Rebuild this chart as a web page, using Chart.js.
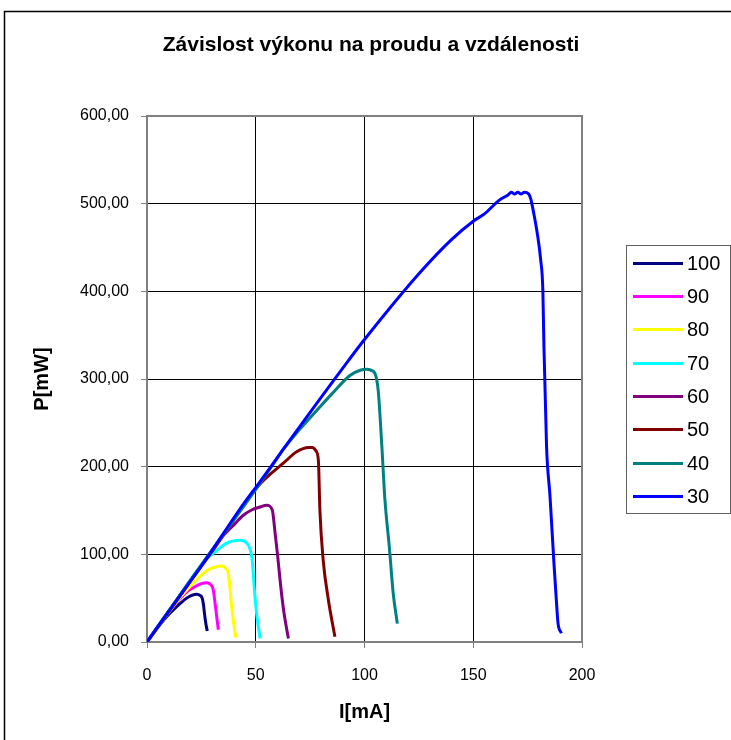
<!DOCTYPE html>
<html>
<head>
<meta charset="utf-8">
<title>Závislost výkonu na proudu a vzdálenosti</title>
<script src="https://cdn.jsdelivr.net/npm/chart.js@4.4.1/dist/chart.umd.min.js"></script>
<style>
    html, body { margin: 0; padding: 0; background: #fff; }
    #wrap { width: 731px; height: 740px; }
</style>
</head>
<body>
<div id="wrap"><canvas id="powerChart" width="731" height="740"></canvas></div>
<script>
// vzdálenosti (legenda) a barvy řad
const distances = ['100', '90', '80', '70', '60', '50', '40', '30'];
const colors = ['#000080', '#FF00FF', '#FFFF00', '#00FFFF', '#800080', '#800000', '#008080', '#0000FF'];

// proud I [mA] a výkon P [mW] pro každou vzdálenost
const i100 = [0, 8, 14.4, 18.2, 22.8, 24.5, 25.4, 26, 26.4, 27, 27.7];
const p100 = [0, 26, 42, 50, 54.4, 53, 49.8, 42, 33, 22, 12.5];

const i90 = [0, 10, 17.5, 22, 25, 27.4, 29.5, 30.5, 31.3, 32, 32.8];
const p90 = [0, 34, 55.5, 63, 66.5, 67.7, 65, 59, 44, 30, 14];

const i80 = [0, 15, 20, 26.7, 30, 34.3, 36.5, 37.4, 38.2, 38.6, 39.5, 40.8];
const p80 = [0, 50, 64, 80, 84.5, 86.7, 83, 78, 60, 48, 28, 5];

const i70 = [0, 15, 26.7, 32, 36, 42.8, 45.8, 47.5, 48.4, 49.4, 50.5, 52];
const p70 = [0, 53, 93, 104, 112, 116, 113, 105, 93, 59, 30, 4];

const i60 = [0, 20, 31.3, 35, 40.5, 44, 48.1, 52, 55, 57.6, 58.9, 60, 61.5, 63, 65];
const p60 = [0, 70, 108, 121, 135, 144, 150.6, 154, 156, 150.6, 124, 100, 63, 33, 4];

const i50 = [0, 25, 40, 50.4, 56, 62.7, 68.8, 74.2, 76, 77.7, 78.8, 79.5, 81, 83.4, 86.4];
const p50 = [0, 87, 140, 176, 190, 204, 217, 222, 222, 218, 207, 150, 93.5, 48, 6];

const i40 = [0, 25, 50, 58, 62.7, 70, 78, 85, 93.3, 98, 101, 103, 104.8, 106.3, 107.9, 109.4, 111.4, 113.2, 115.1];
const p40 = [0, 88, 174, 203, 220, 242, 264, 283, 304, 310, 311, 310, 306.5, 287, 226.6, 162, 108.7, 55.5, 21];

const i30 = [0, 14.4, 28.2, 42.8, 52, 62.7, 75, 92.6, 100, 125, 140, 150, 155, 162, 166, 167.5, 169, 170.5, 172, 173.5, 175.5, 176.5, 177.5, 179.5, 181, 182, 182.5, 183.7, 185.3, 187.1, 188.4, 189, 190.5];
const p30 = [0, 50, 98, 152, 183, 220, 262, 321, 345, 420, 459, 480, 488, 504, 510, 513, 511, 513, 511, 513, 511, 505, 493, 465, 436, 401, 337, 223, 166, 90, 40, 21, 10];

const currents = [i100, i90, i80, i70, i60, i50, i40, i30];
const powers = [p100, p90, p80, p70, p60, p50, p40, p30];

// osy
const xTicks = [0, 50, 100, 150, 200];
const yTicks = [0, 100, 200, 300, 400, 500, 600];

const fontFamily = "'Liberation Sans', Arial, sans-serif";

// rámeček, nadpis, okraj plochy grafu a legenda
const decorPlugin = {
    id: 'decor',
    afterDraw(chart) {
        const ctx = chart.ctx;
        const area = chart.chartArea;
        ctx.save();

        // vnější rámeček
        ctx.strokeStyle = '#000';
        ctx.lineWidth = 1.5;
        ctx.strokeRect(4.5, 11.5, 800, 800);

        // horní a pravý okraj plochy
        ctx.strokeStyle = '#808080';
        ctx.lineWidth = 2;
        ctx.beginPath();
        ctx.moveTo(area.left, area.top);
        ctx.lineTo(area.right, area.top);
        ctx.lineTo(area.right, area.bottom);
        ctx.stroke();

        // nadpis
        ctx.fillStyle = '#000';
        ctx.font = 'bold 21px ' + fontFamily;
        ctx.textAlign = 'center';
        ctx.textBaseline = 'middle';
        ctx.fillText('Závislost výkonu na proudu a vzdálenosti', 371, 45);

        // legenda
        ctx.strokeStyle = '#606060';
        ctx.lineWidth = 1;
        ctx.strokeRect(626.5, 245.5, 104, 268);
        ctx.font = '20px ' + fontFamily;
        ctx.textAlign = 'left';
        chart.data.datasets.forEach((ds, idx) => {
            const y = Math.round(262.7 + idx * 33.3) + 0.5;
            ctx.strokeStyle = ds.borderColor;
            ctx.lineWidth = 3;
            ctx.beginPath();
            ctx.moveTo(633, y);
            ctx.lineTo(683, y);
            ctx.stroke();
            ctx.fillStyle = '#000';
            ctx.fillText(ds.label, 687, y + 1);
        });
        ctx.restore();
    }
};

const datasets = distances.map((label, idx) => ({
    label: label,
    data: currents[idx].map((x, k) => ({ x: x, y: powers[idx][k] })),
    borderColor: colors[idx],
    backgroundColor: colors[idx],
    borderWidth: 3,
    showLine: true,
    pointRadius: 0,
    cubicInterpolationMode: 'monotone',
    order: distances.length - 1 - idx   // modrá (30) navrchu
}));

new Chart(document.getElementById('powerChart').getContext('2d'), {
    type: 'scatter',
    data: { datasets: datasets },
    options: {
        responsive: false,
        animation: false,
        devicePixelRatio: 1,
        layout: { padding: { left: 5, top: 116, right: 149, bottom: 0 } },
        plugins: {
            legend: { display: false },
            tooltip: { enabled: false },
            title: { display: false }
        },
        scales: {
            x: {
                type: 'linear',
                min: xTicks[0],
                max: xTicks[xTicks.length - 1],
                afterFit(scale) { scale.height = 98; },
                afterBuildTicks(scale) { scale.ticks = xTicks.map(v => ({ value: v })); },
                ticks: {
                    color: '#000',
                    padding: 18,
                    font: { family: fontFamily, size: 16 },
                    callback: v => String(v)
                },
                grid: { color: '#000', lineWidth: 1, tickLength: 6, tickColor: '#808080' },
                border: { color: '#808080', width: 2 },
                title: {
                    display: true,
                    text: 'I[mA]',
                    color: '#000',
                    font: { family: fontFamily, size: 20, weight: 'bold' },
                    padding: { top: 0, bottom: 16 }
                }
            },
            y: {
                type: 'linear',
                min: yTicks[0],
                max: yTicks[yTicks.length - 1],
                afterFit(scale) { scale.width = 142; },
                afterBuildTicks(scale) { scale.ticks = yTicks.map(v => ({ value: v })); },
                ticks: {
                    color: '#000',
                    padding: 12,
                    font: { family: fontFamily, size: 16 },
                    callback: v => v.toFixed(2).replace('.', ',')
                },
                grid: { color: '#000', lineWidth: 1, tickLength: 6, tickColor: '#808080' },
                border: { color: '#808080', width: 2 },
                title: {
                    display: true,
                    text: 'P[mW]',
                    color: '#000',
                    font: { family: fontFamily, size: 20, weight: 'bold' },
                    padding: { top: 25, bottom: 0 }
                }
            }
        }
    },
    plugins: [decorPlugin]
});
</script>
</body>
</html>
